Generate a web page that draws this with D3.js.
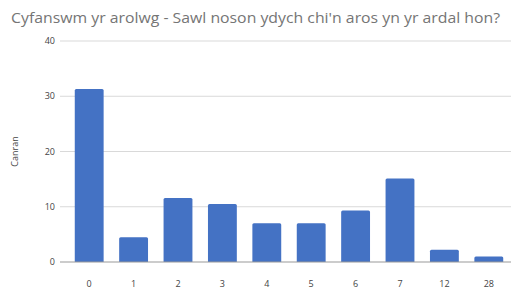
<!DOCTYPE html>
<html>
<head>
<meta charset="utf-8">
<script src="https://cdn.jsdelivr.net/npm/d3@7"></script>
<style>
  body { margin: 0; background: #fff; }
  svg { display: block; font-family: 'Open Sans', sans-serif; }
</style>
</head>
<body>
<svg id="chart" width="515" height="295"></svg>
<script>
const categories = ['0', '1', '2', '3', '4', '5', '6', '7', '12', '28'];
const values = [31.3, 4.5, 11.6, 10.5, 7.0, 7.0, 9.3, 15.1, 2.2, 1.0];
const yTicks = [0, 10, 20, 30, 40];
const title = "Cyfanswm yr arolwg - Sawl noson ydych chi'n aros yn yr ardal hon?";
const yTitle = 'Canran';

const margin = { top: 41, right: 4, bottom: 33, left: 67 };
const width = 515 - margin.left - margin.right;
const height = 295 - margin.top - margin.bottom;

const svg = d3.select('#chart');

svg.append('text')
    .attr('x', 11)
    .attr('y', 23)
    .attr('fill', '#757575')
    .attr('textLength', 489)
    .attr('lengthAdjust', 'spacingAndGlyphs')
    .style('font-size', '15px')
    .text(title);

const g = svg.append('g')
    .attr('transform', `translate(${margin.left},${margin.top})`);

const x = d3.scaleBand()
    .domain(categories)
    .range([0, width])
    .paddingInner(0.35)
    .paddingOuter(0.175);

const y = d3.scaleLinear()
    .domain([0, 40])
    .range([height, 0]);

// gridlines
g.append('g')
    .selectAll('line')
    .data(yTicks.filter(d => d > 0))
    .enter()
    .append('line')
        .attr('x1', -7)
        .attr('x2', width)
        .attr('y1', d => y(d))
        .attr('y2', d => y(d))
        .attr('stroke', '#d9d9d9')
        .attr('stroke-width', 1);

// y labels
g.append('g')
    .selectAll('text')
    .data(yTicks)
    .enter()
    .append('text')
        .attr('x', -12)
        .attr('y', d => y(d))
        .attr('dy', '0.35em')
        .attr('text-anchor', 'end')
        .attr('fill', '#444')
        .style('font-size', '9px')
        .text(d => d);

// bars
g.append('g')
    .selectAll('path')
    .data(values)
    .enter()
    .append('path')
        .attr('fill', '#4472c4')
        .attr('d', (d, i) => {
            const x0 = x(categories[i]);
            const w = x.bandwidth();
            const y0 = y(d);
            const r = Math.min(1.5, height - y0);
            return `M${x0},${height}V${y0 + r}Q${x0},${y0} ${x0 + r},${y0}H${x0 + w - r}Q${x0 + w},${y0} ${x0 + w},${y0 + r}V${height}Z`;
        });

// baseline
g.append('line')
    .attr('x1', -7)
    .attr('x2', width)
    .attr('y1', height)
    .attr('y2', height)
    .attr('stroke', '#999')
    .attr('stroke-width', 1);

// x labels
g.append('g')
    .selectAll('text')
    .data(categories)
    .enter()
    .append('text')
        .attr('x', d => x(d) + x.bandwidth() / 2)
        .attr('y', height + 25)
        .attr('text-anchor', 'middle')
        .attr('fill', '#444')
        .style('font-size', '9px')
        .text(d => d);

// y title
svg.append('text')
    .attr('transform', `translate(18,${margin.top + height / 2}) rotate(-90)`)
    .attr('text-anchor', 'middle')
    .attr('fill', '#444')
    .style('font-size', '9px')
    .text(yTitle);
</script>
</body>
</html>
